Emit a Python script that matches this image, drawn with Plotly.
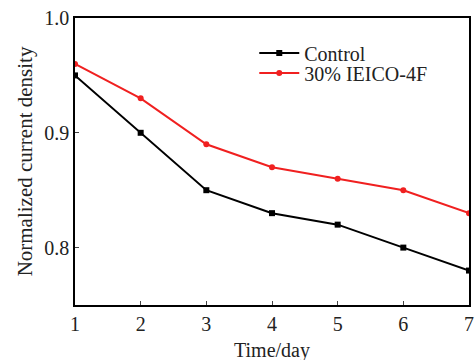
import plotly.graph_objects as go

days = [1, 2, 3, 4, 5, 6, 7]
control = [0.95, 0.90, 0.85, 0.83, 0.82, 0.80, 0.78]
ieico = [0.96, 0.93, 0.89, 0.87, 0.86, 0.85, 0.83]
x_title = "Time/day"
y_title = "Normalized current density"

font = "Liberation Serif"

fig = go.Figure()
fig.add_trace(go.Scatter(x=days, y=control, mode="lines+markers", name="Control",
                         line=dict(color="black", width=2),
                         marker=dict(symbol="square", size=6, color="black"),
                         legend="legend"))
fig.add_trace(go.Scatter(x=days, y=ieico, mode="lines+markers", name="30% IEICO-4F",
                         line=dict(color="#f02020", width=2),
                         marker=dict(symbol="circle", size=6, color="#f02020"),
                         legend="legend2"))

leg = dict(xanchor="left", yanchor="middle", bgcolor="rgba(0,0,0,0)",
           font=dict(size=20, family=font, color="#222"), itemwidth=40,
           borderwidth=0)
fig.update_layout(
    width=475, height=360,
    margin=dict(l=75, r=6, t=18, b=55, autoexpand=False),
    plot_bgcolor="white", paper_bgcolor="white",
    font=dict(family=font, size=20, color="#222"),
    showlegend=True,
    legend=dict(x=0.455, y=0.878, **leg),
    legend2=dict(x=0.455, y=0.808, **leg),
    xaxis=dict(range=[1, 7], tickvals=days, ticks="inside", ticklen=4,
               showline=True, linecolor="black", linewidth=1.5, mirror=True,
               showgrid=False, zeroline=False, automargin=False,
               tickfont=dict(size=20, family=font)),
    yaxis=dict(range=[0.75, 1.0], tickvals=[0.8, 0.9, 1.0], ticktext=["0.8", "0.9", "1.0"],
               ticks="inside", ticklen=4,
               showline=True, linecolor="black", linewidth=1.5, mirror=True,
               showgrid=False, zeroline=False, automargin=False,
               title=dict(text=y_title, font=dict(size=21, family=font), standoff=6),
               tickfont=dict(size=20, family=font)),
    annotations=[dict(text=x_title, xref="paper", yref="paper", x=0.5, y=-0.157,
                      xanchor="center", yanchor="middle", showarrow=False,
                      font=dict(size=20, family=font, color="#222"))],
)
fig.write_html("out.html", config={"displayModeBar": False},
               post_script="document.body.style.margin='0px';")
